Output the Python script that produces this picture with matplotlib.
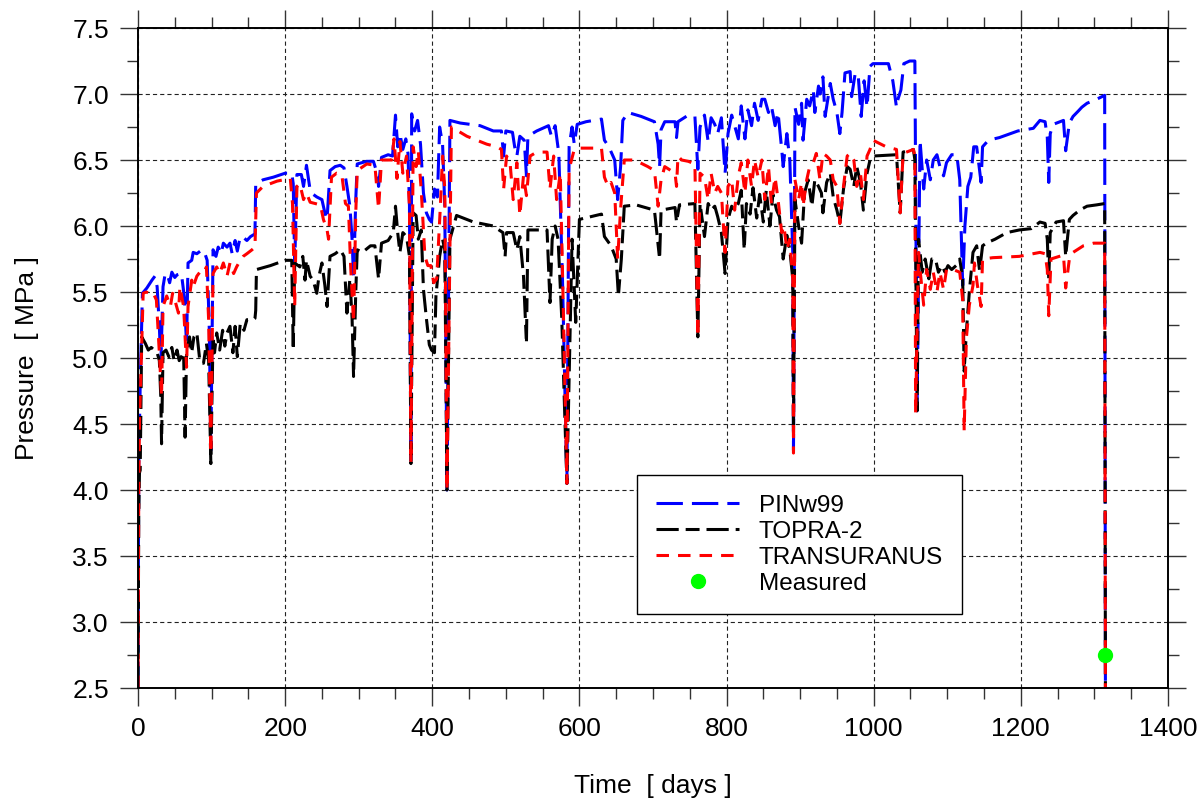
import numpy as np
import matplotlib
matplotlib.use("Agg")
import matplotlib.pyplot as plt
from matplotlib.ticker import MultipleLocator, FormatStrFormatter

plt.rcParams['font.family'] = ['Liberation Sans', 'DejaVu Sans']
plt.rcParams['lines.scale_dashes'] = False

# (day, MPa)
pinw99 = [
    (0, 2.5), (1, 4.2), (3, 4.8), (6, 5.49), (12, 5.53), (19, 5.59), (23, 5.62), (26, 5.54),
    (29, 5.24), (31, 4.95), (34, 5.54), (37, 5.64), (40, 5.63), (43, 5.57), (46, 5.65),
    (50, 5.61), (53, 5.63), (59, 5.64), (63, 5.46), (66, 5.1), (68, 5.72), (73, 5.74),
    (75, 5.8), (80, 5.79), (87, 5.82), (91, 5.79), (94, 5.74), (97, 5.2), (99, 4.3),
    (101, 5.3), (102, 5.82), (106, 5.77), (109, 5.84), (113, 5.79), (116, 5.87), (121, 5.84),
    (125, 5.87), (128, 5.79), (132, 5.89), (135, 5.81), (139, 5.92), (144, 5.91), (148, 5.89),
    (153, 5.92), (159, 5.94), (160, 6.32), (170, 6.35), (184, 6.37), (200, 6.4), (209, 6.4),
    (211, 6.32), (213, 5.7), (216, 6.39), (222, 6.39), (225, 6.3), (229, 6.46), (234, 6.27),
    (238, 6.24), (243, 6.22), (250, 6.2), (254, 6.1), (257, 6.05), (261, 6.42), (268, 6.45),
    (275, 6.46), (280, 6.44), (284, 6.3), (288, 6.15), (291, 5.9), (293, 5.6), (296, 6.2),
    (298, 6.47), (311, 6.49), (320, 6.49), (325, 6.4), (327, 6.3), (331, 6.52), (340, 6.54),
    (346, 6.53), (350, 6.84), (353, 6.6), (356, 6.7), (360, 6.58), (364, 6.66), (367, 6.55),
    (369, 6.15), (371, 4.21), (372, 6.85), (376, 6.72), (380, 6.8), (384, 6.62), (388, 6.25),
    (392, 6.1), (396, 6.05), (399, 6.03), (403, 6.28), (407, 6.22), (410, 6.75), (414, 6.62),
    (417, 6.15), (420, 4.0), (424, 6.8), (438, 6.78), (465, 6.76), (483, 6.72), (494, 6.72),
    (497, 6.53), (500, 6.72), (509, 6.71), (512, 6.6), (515, 6.53), (519, 6.68), (525, 6.65),
    (528, 6.38), (530, 6.68), (542, 6.72), (558, 6.76), (562, 6.68), (567, 6.76), (572, 6.55),
    (577, 5.6), (583, 4.05), (586, 6.6), (590, 6.75), (593, 6.62), (597, 6.77), (609, 6.79),
    (630, 6.81), (634, 6.65), (640, 6.6), (648, 6.5), (652, 6.2), (656, 6.45), (659, 6.8),
    (666, 6.86), (684, 6.83), (702, 6.79), (707, 6.62), (709, 6.45), (711, 6.73), (716, 6.79),
    (730, 6.79), (732, 6.67), (734, 6.79), (748, 6.84), (757, 6.83), (761, 6.43), (764, 6.75),
    (770, 6.84), (775, 6.64), (779, 6.82), (784, 6.77), (788, 6.7), (793, 6.82), (798, 6.4),
    (802, 6.7), (807, 6.84), (811, 6.76), (816, 6.66), (820, 6.91), (825, 6.66), (829, 6.88),
    (834, 6.76), (838, 6.93), (843, 6.8), (848, 6.96), (852, 6.96), (857, 6.86), (861, 6.91),
    (866, 6.76), (870, 6.86), (875, 6.58), (877, 6.45), (882, 6.7), (886, 6.5), (890, 5.8),
    (891, 4.3), (893, 6.9), (898, 6.77), (902, 6.93), (904, 6.65), (909, 6.96), (913, 6.91),
    (918, 7.03), (920, 6.86), (925, 7.06), (927, 7.0), (931, 7.13), (934, 6.83), (941, 7.08),
    (945, 6.96), (950, 6.86), (954, 6.7), (957, 6.86), (961, 7.16), (968, 7.17), (970, 6.98),
    (975, 7.16), (979, 7.14), (983, 6.83), (987, 7.1), (991, 6.9), (995, 7.21), (999, 7.23),
    (1020, 7.23), (1026, 7.1), (1031, 6.9), (1033, 6.96), (1037, 7.03), (1041, 7.23),
    (1049, 7.25), (1056, 7.25), (1059, 4.6), (1063, 6.65), (1068, 6.28), (1072, 6.5),
    (1077, 6.35), (1081, 6.5), (1086, 6.54), (1090, 6.45), (1095, 6.38), (1099, 6.48),
    (1106, 6.54), (1113, 6.54), (1117, 6.35), (1121, 5.55), (1124, 6.0), (1128, 6.3),
    (1132, 6.37), (1136, 6.6), (1140, 6.6), (1146, 6.33), (1148, 6.6), (1156, 6.65),
    (1171, 6.67), (1196, 6.72), (1217, 6.74), (1226, 6.8), (1233, 6.79), (1236, 6.67),
    (1238, 6.33), (1240, 6.7), (1244, 6.77), (1258, 6.8), (1261, 6.57), (1266, 6.78),
    (1271, 6.83), (1278, 6.87), (1283, 6.9), (1290, 6.93), (1303, 6.96), (1314, 6.99),
    (1315, 2.5),
]

topra2 = [
    (0, 2.5), (1, 3.8), (2, 4.13), (3, 4.15), (5, 5.16), (10, 5.11), (14, 5.06), (18, 5.08),
    (22, 5.06), (26, 5.04), (29, 4.98), (31, 4.7), (32, 4.35), (34, 5.04), (38, 5.06),
    (42, 5.01), (46, 5.08), (49, 4.98), (53, 5.06), (56, 4.98), (62, 5.04), (64, 4.4),
    (66, 5.04), (70, 5.16), (73, 5.04), (76, 5.16), (80, 5.19), (84, 4.98), (89, 4.96),
    (93, 5.11), (96, 4.98), (99, 4.2), (102, 5.16), (104, 5.04), (107, 5.19), (111, 5.06),
    (115, 5.21), (118, 5.09), (121, 5.19), (125, 5.24), (129, 5.04), (132, 5.24), (135, 5.01),
    (139, 5.26), (144, 5.21), (148, 5.29), (153, 5.29), (157, 5.29), (159, 5.3), (160, 5.36),
    (161, 5.67), (180, 5.7), (200, 5.74), (209, 5.74), (211, 5.06), (213, 5.72), (220, 5.69),
    (224, 5.77), (227, 5.59), (229, 5.74), (234, 5.62), (238, 5.59), (243, 5.49), (246, 5.62),
    (250, 5.72), (254, 5.55), (257, 5.39), (261, 5.77), (268, 5.79), (275, 5.82), (280, 5.77),
    (284, 5.34), (288, 5.6), (291, 5.3), (293, 4.86), (296, 5.5), (298, 5.82), (305, 5.8),
    (316, 5.85), (322, 5.85), (327, 5.6), (331, 5.87), (340, 5.89), (347, 5.95), (350, 6.15),
    (353, 5.95), (356, 5.8), (360, 5.95), (365, 5.92), (369, 5.77), (371, 4.2), (374, 6.1),
    (378, 6.08), (381, 5.9), (385, 5.97), (388, 5.52), (392, 5.3), (396, 5.1), (399, 5.06),
    (403, 5.04), (405, 5.47), (410, 5.77), (414, 5.9), (417, 5.82), (420, 4.0), (424, 5.9),
    (433, 6.08), (456, 6.03), (483, 6.0), (488, 5.98), (496, 5.95), (499, 5.77), (501, 5.95),
    (510, 5.95), (515, 5.82), (519, 5.92), (524, 5.62), (528, 5.11), (530, 5.97), (542, 5.97),
    (556, 5.97), (560, 5.42), (563, 5.9), (567, 6.0), (571, 5.9), (576, 5.3), (583, 4.05),
    (590, 5.9), (595, 5.27), (600, 6.05), (630, 6.09), (634, 5.92), (643, 5.85), (650, 5.75),
    (653, 5.47), (657, 5.75), (661, 6.15), (677, 6.16), (702, 6.12), (709, 5.75), (711, 6.12),
    (730, 6.14), (732, 6.03), (736, 6.16), (757, 6.17), (761, 5.16), (764, 6.17), (770, 5.92),
    (775, 6.17), (779, 6.12), (784, 6.15), (788, 6.07), (793, 5.95), (798, 5.64), (802, 6.05),
    (807, 6.15), (811, 6.12), (816, 6.17), (820, 6.27), (824, 5.82), (827, 6.17), (832, 6.09),
    (836, 6.29), (841, 6.06), (845, 6.24), (850, 6.03), (854, 6.27), (859, 6.0), (863, 6.24),
    (868, 6.12), (872, 6.07), (877, 5.75), (882, 5.93), (886, 5.82), (890, 5.6), (891, 4.43),
    (893, 6.2), (898, 6.0), (902, 5.87), (906, 6.25), (911, 6.35), (916, 6.15), (920, 6.35),
    (925, 6.3), (929, 6.25), (931, 6.1), (936, 6.33), (941, 6.4), (945, 6.22), (950, 6.12),
    (954, 6.02), (959, 6.28), (964, 6.45), (968, 6.43), (973, 6.3), (977, 6.45), (982, 6.33),
    (986, 6.12), (991, 6.4), (995, 6.5), (999, 6.53), (1031, 6.54), (1036, 6.1), (1040, 6.56),
    (1054, 6.58), (1056, 6.5), (1059, 4.6), (1061, 5.9), (1066, 5.65), (1070, 5.75),
    (1075, 5.6), (1079, 5.75), (1084, 5.75), (1088, 5.65), (1093, 5.7), (1097, 5.65),
    (1101, 5.7), (1106, 5.67), (1112, 5.7), (1117, 5.75), (1121, 5.6), (1123, 4.9),
    (1126, 5.2), (1130, 5.5), (1135, 5.8), (1140, 5.85), (1144, 5.66), (1148, 5.85),
    (1153, 5.87), (1165, 5.9), (1181, 5.95), (1198, 5.97), (1214, 5.98), (1226, 6.03),
    (1233, 6.02), (1236, 5.9), (1238, 5.6), (1240, 5.95), (1248, 6.03), (1258, 6.04),
    (1261, 5.77), (1266, 6.05), (1271, 6.08), (1280, 6.12), (1290, 6.15), (1303, 6.16),
    (1314, 6.17), (1315, 2.5),
]

transuranus = [
    (0, 2.5), (1, 4.0), (2, 4.5), (5, 5.09), (7, 5.49), (11, 5.5), (16, 5.49), (20, 5.5),
    (25, 5.44), (29, 5.04), (32, 4.71), (34, 5.39), (39, 5.47), (44, 5.39), (47, 5.49),
    (50, 5.44), (55, 5.34), (57, 5.54), (62, 5.39), (66, 4.93), (68, 5.39), (73, 5.59),
    (75, 5.54), (80, 5.62), (84, 5.65), (89, 5.64), (93, 5.69), (96, 5.29), (99, 4.28),
    (102, 5.64), (107, 5.69), (111, 5.64), (116, 5.72), (121, 5.62), (125, 5.72), (130, 5.64),
    (134, 5.69), (139, 5.74), (143, 5.77), (148, 5.79), (155, 5.82), (159, 5.84), (161, 6.25),
    (170, 6.3), (189, 6.34), (207, 6.36), (210, 6.17), (213, 5.39), (216, 6.3), (220, 6.32),
    (225, 6.2), (229, 6.25), (234, 6.18), (241, 6.17), (248, 6.16), (252, 6.05), (257, 5.97),
    (259, 5.9), (263, 6.37), (270, 6.4), (277, 6.39), (282, 6.17), (286, 6.15), (289, 5.7),
    (293, 5.27), (296, 6.1), (298, 6.42), (311, 6.47), (322, 6.46), (327, 6.13), (331, 6.5),
    (345, 6.5), (348, 6.66), (352, 6.36), (356, 6.64), (360, 6.4), (365, 6.53), (369, 6.15),
    (371, 4.21), (374, 6.6), (378, 6.45), (381, 6.57), (385, 6.27), (390, 5.77), (394, 5.7),
    (398, 5.7), (402, 5.57), (406, 5.6), (411, 6.15), (414, 6.53), (417, 6.28), (420, 4.0),
    (426, 6.75), (447, 6.68), (474, 6.62), (488, 6.6), (494, 6.58), (497, 6.28), (501, 6.53),
    (506, 6.46), (510, 6.2), (515, 6.48), (519, 6.08), (524, 6.38), (528, 6.23), (533, 6.53),
    (542, 6.56), (556, 6.56), (560, 6.28), (565, 6.53), (569, 6.2), (574, 6.4), (578, 5.4),
    (583, 4.05), (586, 6.43), (593, 6.58), (600, 6.59), (630, 6.59), (634, 6.37), (639, 6.3),
    (643, 6.33), (648, 6.25), (652, 5.75), (656, 6.13), (661, 6.5), (675, 6.5), (693, 6.45),
    (702, 6.42), (707, 6.15), (711, 6.35), (716, 6.45), (730, 6.4), (732, 6.3), (734, 6.53),
    (739, 6.5), (748, 6.49), (757, 6.47), (761, 5.16), (764, 6.4), (770, 6.37), (775, 6.2),
    (779, 6.4), (784, 6.25), (788, 6.3), (793, 6.25), (798, 5.8), (802, 6.3), (807, 6.35),
    (811, 6.12), (816, 6.38), (820, 6.48), (825, 6.25), (829, 6.5), (834, 6.3), (838, 6.5),
    (843, 6.37), (848, 6.5), (852, 6.2), (857, 6.45), (861, 6.17), (866, 6.37), (870, 6.2),
    (875, 5.95), (878, 6.0), (882, 5.82), (886, 5.9), (890, 5.6), (891, 4.28), (893, 6.35),
    (898, 6.2), (902, 6.33), (904, 6.15), (909, 6.35), (913, 6.45), (918, 6.48), (922, 6.55),
    (927, 6.35), (931, 6.55), (936, 6.53), (941, 6.5), (945, 6.35), (950, 6.3), (954, 6.02),
    (959, 6.3), (964, 6.53), (968, 6.55), (973, 6.5), (977, 6.3), (982, 6.4), (986, 6.2),
    (991, 6.53), (995, 6.58), (999, 6.65), (1017, 6.6), (1031, 6.58), (1036, 6.1),
    (1040, 6.55), (1054, 6.58), (1056, 6.53), (1057, 4.58), (1061, 5.8), (1063, 5.67),
    (1068, 5.4), (1072, 5.67), (1077, 5.52), (1081, 5.65), (1086, 5.5), (1090, 5.65),
    (1095, 5.52), (1099, 5.67), (1108, 5.67), (1117, 5.65), (1121, 5.44), (1123, 4.45),
    (1126, 5.15), (1130, 5.4), (1135, 5.55), (1137, 5.72), (1141, 5.55), (1146, 5.39),
    (1148, 5.75), (1162, 5.76), (1198, 5.77), (1226, 5.8), (1233, 5.79), (1236, 5.67),
    (1238, 5.32), (1241, 5.75), (1258, 5.78), (1261, 5.53), (1266, 5.75), (1271, 5.8),
    (1285, 5.85), (1299, 5.87), (1314, 5.87), (1315, 2.5),
]

measured_day = [1315]
measured_mpa = [2.75]


def plot_pressure():
    fig = plt.figure(figsize=(11.99, 8.0), dpi=100)
    ax = fig.add_axes([0.1151, 0.14, 0.859, 0.825])

    d, p = zip(*pinw99)
    ax.plot(d, p, color="blue", lw=2.2, dashes=(19, 6.5), label="PINw99")
    d, p = zip(*topra2)
    ax.plot(d, p, color="black", lw=2.2, dashes=(16, 5, 10, 5), label="TOPRA-2")
    d, p = zip(*transuranus)
    ax.plot(d, p, color="red", lw=2.2, dashes=(9, 6.5), label="TRANSURANUS")
    ax.plot(measured_day, measured_mpa, "o", color="#00ff00", ms=10, ls="none",
            label="Measured", zorder=5)

    ax.set_xlim(0, 1400)
    ax.set_ylim(2.5, 7.5)
    ax.xaxis.set_major_locator(MultipleLocator(200))
    ax.xaxis.set_minor_locator(MultipleLocator(50))
    ax.yaxis.set_major_locator(MultipleLocator(0.5))
    ax.yaxis.set_minor_locator(MultipleLocator(0.25))
    ax.yaxis.set_major_formatter(FormatStrFormatter("%.1f"))

    ax.tick_params(which="both", direction="out", top=True, right=True,
                   width=1.0, color="#333333", labelsize=19)
    ax.tick_params(which="major", length=13, pad=8)
    ax.tick_params(which="minor", length=8)
    for s in ax.spines.values():
        s.set_linewidth(1.4)

    ax.grid(True, which="major", color="#222222", lw=0.8, ls=(0, (3, 2.2)))

    ax.set_xlabel("Time  [ days ]", fontsize=19, labelpad=24)
    ax.set_ylabel("Pressure  [ MPa ]", fontsize=19, labelpad=24)

    leg = ax.legend(loc="lower left", bbox_to_anchor=(0.4845, 0.112), borderaxespad=0,
                    fontsize=17.5, handlelength=3.4, handletextpad=0.8, labelspacing=0.16,
                    borderpad=0.8, fancybox=False, framealpha=1, edgecolor="black")
    leg.get_frame().set_linewidth(1.0)

    fig.savefig("out.png", dpi=100)


def main():
    plot_pressure()


if __name__ == "__main__":
    main()
